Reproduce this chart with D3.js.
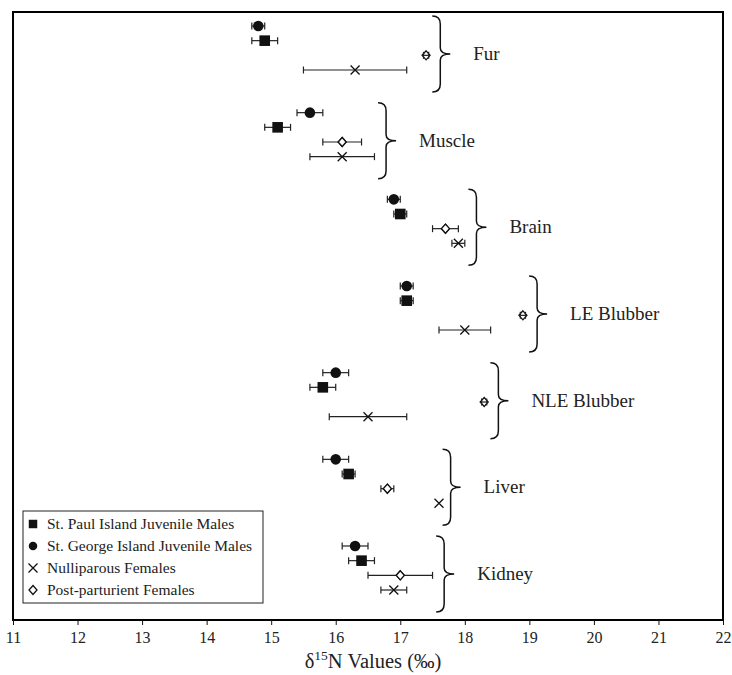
<!DOCTYPE html>
<html>
<head>
<meta charset="utf-8">
<script src="https://cdn.jsdelivr.net/npm/d3@7"></script>
<style>
  body { margin: 0; background: #fff; }
  svg, svg text { font-family: "Liberation Serif", "Times New Roman", serif; }
</style>
</head>
<body>
<svg id="chart" width="732" height="675"></svg>
<script>
// tissues, top to bottom
const tissues = ["Fur", "Muscle", "Brain", "LE Blubber", "NLE Blubber", "Liver", "Kidney"];

// mean and error per tissue for each group
const stGeorgeMean = [14.8, 15.6, 16.9, 17.1, 16.0, 16.0, 16.3];
const stGeorgeErr  = [0.1, 0.2, 0.1, 0.1, 0.2, 0.2, 0.2];
const stPaulMean   = [14.9, 15.1, 17.0, 17.1, 15.8, 16.2, 16.4];
const stPaulErr    = [0.2, 0.2, 0.1, 0.1, 0.2, 0.1, 0.2];
const postMean     = [17.4, 16.1, 17.7, 18.9, 18.3, 16.8, 17.0];
const postErr      = [0.04, 0.3, 0.2, 0.04, 0.04, 0.1, 0.5];
const nulliMean    = [16.3, 16.1, 17.9, 18.0, 16.5, 17.6, 16.9];
const nulliErr     = [0.8, 0.5, 0.1, 0.4, 0.6, 0, 0.2];

const xTicks = [11, 12, 13, 14, 15, 16, 17, 18, 19, 20, 21, 22];

const series = [
  { key: "stGeorge", name: "St. George Island Juvenile Males", shape: "circle", mean: stGeorgeMean, err: stGeorgeErr },
  { key: "stPaul", name: "St. Paul Island Juvenile Males", shape: "square", mean: stPaulMean, err: stPaulErr },
  { key: "post", name: "Post-parturient Females", shape: "diamond", mean: postMean, err: postErr },
  { key: "nulli", name: "Nulliparous Females", shape: "cross", mean: nulliMean, err: nulliErr }
];
const legendOrder = ["stPaul", "stGeorge", "nulli", "post"];

const svg = d3.select("#chart");
const frame = { left: 13, right: 723, top: 12, bottom: 620 };

const x = d3.scaleLinear().domain([11, 22]).range([frame.left, frame.right]);
const groupY = d3.scalePoint().domain(tissues).range([26, 546]);
const rowY = d3.scalePoint().domain(series.map(s => s.key)).range([0, 44]);

// frame
svg.append("rect")
  .attr("x", frame.left).attr("y", frame.top)
  .attr("width", frame.right - frame.left).attr("height", frame.bottom - frame.top)
  .attr("fill", "none").attr("stroke", "#000").attr("stroke-width", 2);

// x axis
const xAxis = svg.append("g")
  .attr("transform", `translate(0,${frame.bottom})`)
  .call(d3.axisBottom(x).tickValues(xTicks).tickSize(5).tickFormat(d3.format("d")))
  .attr("font-family", "Liberation Serif").attr("font-size", 16);
xAxis.select(".domain").remove();
xAxis.selectAll(".tick line").attr("stroke", "#111");
xAxis.selectAll(".tick text").attr("fill", "#222").attr("dy", "0.95em");

const xLabel = svg.append("text")
  .attr("x", 373).attr("y", 668)
  .attr("text-anchor", "middle").attr("font-size", 20.5).attr("fill", "#222");
xLabel.append("tspan").text("δ");
xLabel.append("tspan").text("15").attr("font-size", 13.5).attr("dy", -8);
xLabel.append("tspan").text("N Values (‰)").attr("dy", 8);

// points
const pts = [];
series.forEach(s => {
  tissues.forEach((t, i) => {
    pts.push({ s, t, mean: s.mean[i], err: s.err[i], y: groupY(t) + rowY(s.key) });
  });
});

function drawSymbol(g, shape) {
  if (shape === "circle") {
    g.append("circle").attr("r", 5.3).attr("fill", "#111");
  } else if (shape === "square") {
    g.append("rect").attr("x", -5.3).attr("y", -5.3).attr("width", 10.6).attr("height", 10.6).attr("fill", "#111");
  } else if (shape === "diamond") {
    g.append("path").attr("d", "M0,-4.5L4,0L0,4.5L-4,0Z")
      .attr("fill", "#fff").attr("stroke", "#111").attr("stroke-width", 1.3);
  } else {
    g.append("path").attr("d", "M-4.5,-4.5L4.5,4.5M-4.5,4.5L4.5,-4.5")
      .attr("fill", "none").attr("stroke", "#111").attr("stroke-width", 1.3);
  }
}

const ptG = svg.append("g").selectAll("g")
  .data(pts).enter().append("g");

// diamonds are drawn before their error bars so tiny bars show through them
ptG.filter(d => d.s.shape === "diamond").each(function(d) {
  const g = d3.select(this).append("g").attr("transform", `translate(${x(d.mean)},${d.y})`);
  drawSymbol(g, d.s.shape);
});

ptG.filter(d => d.err > 0).each(function(d) {
  const g = d3.select(this);
  const x0 = x(d.mean - d.err), x1 = x(d.mean + d.err);
  g.append("line").attr("x1", x0).attr("x2", x1).attr("y1", d.y).attr("y2", d.y)
    .attr("stroke", "#222").attr("stroke-width", 1.2);
  [x0, x1].forEach(xx => {
    g.append("line").attr("x1", xx).attr("x2", xx).attr("y1", d.y - 3.5).attr("y2", d.y + 3.5)
      .attr("stroke", "#222").attr("stroke-width", 1.2);
  });
});

ptG.filter(d => d.s.shape !== "diamond").each(function(d) {
  const g = d3.select(this).append("g").attr("transform", `translate(${x(d.mean)},${d.y})`);
  drawSymbol(g, d.s.shape);
});

// redraw diamond outlines (with open centre) over bars wider than the diamond
ptG.filter(d => d.s.shape === "diamond" && x(d.mean + d.err) - x(d.mean) > 5).each(function(d) {
  const g = d3.select(this).append("g").attr("transform", `translate(${x(d.mean)},${d.y})`);
  drawSymbol(g, d.s.shape);
});

// braces and tissue labels
tissues.forEach((t, i) => {
  const maxExt = d3.max(series, s => s.mean[i] + s.err[i]);
  const bx = x(maxExt + 0.18);
  const ym = groupY(t) + 28;
  const y0 = ym - 38, y1 = ym + 38;
  const path = `M${bx - 8},${y0} Q${bx},${y0} ${bx},${y0 + 8} L${bx},${ym - 6} Q${bx},${ym} ${bx + 10},${ym}` +
    ` Q${bx},${ym} ${bx},${ym + 6} L${bx},${y1 - 8} Q${bx},${y1} ${bx - 8},${y1}`;
  svg.append("path").attr("d", path).attr("fill", "none").attr("stroke", "#111").attr("stroke-width", 1.5);
  svg.append("text").text(t)
    .attr("x", bx + 33).attr("y", ym + 6)
    .attr("font-size", 19).attr("fill", "#222");
});

// legend
const legend = svg.append("g");
legend.append("rect")
  .attr("x", 23).attr("y", 511).attr("width", 240).attr("height", 92)
  .attr("fill", "#fff").attr("stroke", "#222").attr("stroke-width", 1);
legendOrder.forEach((k, i) => {
  const s = series.find(d => d.key === k);
  const yy = 524 + i * 22;
  const g = legend.append("g").attr("transform", `translate(33,${yy})`);
  if (s.shape === "circle" || s.shape === "square") {
    const sg = g.append("g").attr("transform", "scale(0.8)");
    drawSymbol(sg, s.shape);
  } else {
    drawSymbol(g, s.shape);
  }
  legend.append("text").text(s.name)
    .attr("x", 47).attr("y", yy + 5)
    .attr("font-size", 15.5).attr("fill", "#222");
});
</script>
</body>
</html>
